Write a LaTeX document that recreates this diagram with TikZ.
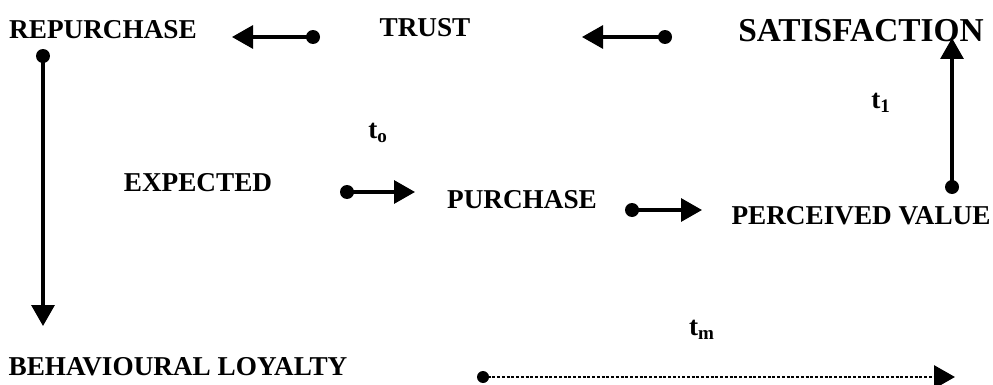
\documentclass[tikz,border=0pt]{standalone}
\usepackage{fontspec}
\setmainfont{Liberation Serif}
\usetikzlibrary{arrows.meta}
\tikzset{
  lab/.style={font=\fontsize{15.5}{18}\selectfont\bfseries, inner sep=0pt},
  link/.style={line width=1.8pt, -{Triangle[length=0.42cm,width=0.46cm]}}
}
\begin{document}
\begin{tikzpicture}[x=0.02cm, y=-0.02cm, line join=round]
			\useasboundingbox (0,0) rectangle (993,385);
			% stages of the chain
			\foreach \x/\y/\t/\n in {103/30/REPURCHASE/rep,425/28/TRUST/tru,198/183/EXPECTED/exp,522/200/PURCHASE/pur,861/216/PERCEIVED VALUE/val,178/367/BEHAVIOURAL LOYALTY/loy}
			\node[lab] (\n) at (\x,\y) {\t};
			\node[lab, font=\fontsize{19}{22}\selectfont\bfseries] (sat) at (861,31) {SATISFACTION};
			% time marks
			\foreach \x/\y/\s/\n in {378/133/o/t0,881/103/1/t1,702/330/m/tm}
			\node[lab] (\n) at (\x,\y) {t\textsubscript{\s}};
			% ends of the links
			\foreach \x/\y/\t in {313/37/a1,232/37/a2,665/37/b1,582/37/b2,952/187/c1,952/38/c2,347/192/d1,415/192/d2,632/210/e1,702/210/e2,43/56/f1,43/326/f2,483/377/g1,955/377/g2}
			\coordinate (\t) at (\x,\y);
			\foreach \a/\b in {a1/a2,b1/b2,c1/c2,d1/d2,e1/e2,f1/f2}
			\draw[link] (\a)--(\b);
			\draw[link, line width=1.7pt, densely dotted] (g1)--(g2);
			\foreach \t in {a1,b1,c1,d1,e1,f1}
			\fill (\t) circle(0.14cm);
			\fill (g1) circle(0.12cm);
		\end{tikzpicture}
\end{document}
